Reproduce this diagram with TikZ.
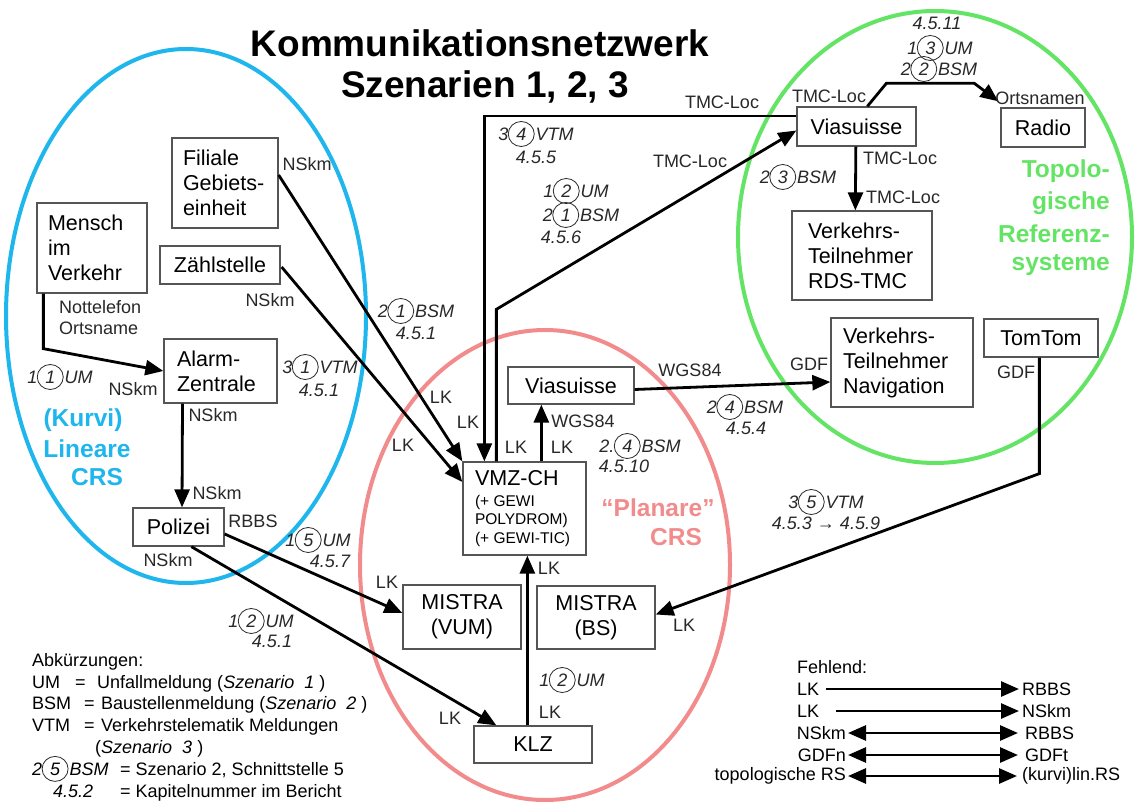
\documentclass[tikz,border=0pt]{standalone}
\usepackage{fontspec}
\setmainfont{Liberation Sans}
\usetikzlibrary{arrows.meta,calc}
\definecolor{cblue}{RGB}{30,182,236}
\definecolor{cgreen}{RGB}{100,228,100}
\definecolor{cpink}{RGB}{242,140,140}
\definecolor{bgray}{RGB}{85,85,85}
\definecolor{tgray}{RGB}{40,40,40}
\newcommand{\fsz}[2]{\fontsize{#1}{#2}\selectfont}
\newcommand{\cn}[1]{\tikz[baseline=(cnx.base)]{\node[inner sep=0pt,minimum width=24pt](cnx){#1};\draw[tgray,line width=0.8pt] ($(cnx.center)$) ellipse [x radius=13pt, y radius=12.5pt];}}
\newcommand{\cl}[3]{#1\hspace{-0.5pt}\cn{#2}\hspace{1pt}#3}
\tikzset{
 box/.style={draw=bgray, line width=1.3pt, inner sep=0pt, font=\fsz{21.5}{25}, text=black},
 lab/.style={inner sep=0pt, font=\fsz{18}{21}, text=tgray},
 ilab/.style={inner sep=0pt, font=\fsz{18}{21}\itshape, text=tgray},
 leg/.style={inner sep=0pt, font=\fsz{18}{21}, text=black},
 conn/.style={line width=2.8pt, draw=black},
 arr/.style={conn, -{Triangle[length=18pt,width=15pt]}},
 darr/.style={conn, {Triangle[length=18pt,width=15pt]}-{Triangle[length=18pt,width=15pt]}},
 ell/.style={line width=4pt},
 elab/.style={inner sep=0pt, font=\fsz{24.5}{30}\bfseries},
}
\begin{document}
\begin{tikzpicture}[x=1pt,y=-1pt]
\useasboundingbox (0,0) rectangle (1135,805);
\fill[white] (0,0) rectangle (1135,805);
% ellipses
\draw[ell,cblue] (186,316) ellipse [x radius=180, y radius=267];
\draw[ell,cpink] (545,565) ellipse [x radius=185, y radius=235];
\draw[ell,cgreen] (935,237) ellipse [x radius=197, y radius=226];
% ellipse labels
\node[elab,text=cblue] (eb1) at (83,420) {(Kurvi)};
\node[elab,text=cblue] (eb2) at (87,449) {Lineare};
\node[elab,text=cblue] (eb3) at (97,477) {CRS};
\node[elab,text=cgreen,anchor=base east] (eg1) at (1110,178) {Topolo-};
\node[elab,text=cgreen,anchor=base east] (eg2) at (1110,210) {gische};
\node[elab,text=cgreen,anchor=base east] (eg3) at (1110,242) {Referenz-};
\node[elab,text=cgreen,anchor=base east] (eg4) at (1110,270) {systeme};
\node[elab,text=cpink] (ep1) at (658,508) {“Planare”};
\node[elab,text=cpink] (ep2) at (676,537) {CRS};
% title
\node[font=\fsz{37}{40}\bfseries, anchor=base, inner sep=0pt] (t1) at (480,57) {Kommunikationsnetzwerk};
\node[font=\fsz{37}{40}\bfseries, anchor=base, inner sep=0pt] (t2) at (485,98) {Szenarien 1, 2, 3};
% boxes
\node[box, minimum width=106pt, minimum height=90pt, text width=84pt, align=left] (filiale) at (225,183) {Filiale\\Gebiets-\\einheit};
\node[box, minimum width=110pt, minimum height=90pt, text width=88pt, align=left] (mensch) at (92,248) {Mensch\\im\\Verkehr};
\node[box, minimum width=120pt, minimum height=38pt] (zaehl) at (220,265) {Zählstelle};
\node[box, minimum width=113pt, minimum height=64pt, text width=87pt, align=left] (alarm) at (220.5,371) {Alarm-\\Zentrale};
\node[box, minimum width=91pt, minimum height=38pt] (polizei) at (178.5,527) {Polizei};
\node[box, minimum width=119pt, minimum height=39pt] (viatop) at (856.5,126.5) {Viasuisse};
\node[box, minimum width=84pt, minimum height=39pt] (radio) at (1043,127.5) {Radio};
\node[box, minimum width=140pt, minimum height=89pt, text width=108pt, align=left] (vtrds) at (862,255.5) {Verkehrs-\\Teilnehmer\\RDS-TMC};
\node[box, minimum width=142pt, minimum height=89pt, text width=118pt, align=left] (nav) at (902,362.5) {Verkehrs-\\Teilnehmer\\Navigation};
\node[box, minimum width=114pt, minimum height=38pt] (tomtom) at (1041,338) {TomTom};
\node[box, minimum width=126pt, minimum height=37pt] (viamid) at (571,385.5) {Viasuisse};
\node[box, minimum width=123pt, minimum height=93pt] (vmz) at (524.5,508.5) {\parbox{99pt}{\fsz{21.5}{23}VMZ-CH\par\vspace{2pt}\fsz{15.5}{18.5}(+ GEWI\par POLYDROM)\par (+ GEWI-TIC)}};
\node[box, minimum width=118pt, minimum height=64pt, align=center] (mistravum) at (462,617) {MISTRA\\(VUM)};
\node[box, minimum width=118pt, minimum height=63pt, align=center] (mistrabs) at (596,617.5) {MISTRA\\(BS)};
\node[box, minimum width=118pt, minimum height=37pt] (klz) at (533,744.5) {KLZ};
% connectors
\coordinate (c1) at ($(mensch.south west)+(7,55)$);
\draw[arr] ($(mensch.south west)+(7,0)$) -- (c1) -- (alarm.west);
\draw[arr] ($(alarm.south)+(-38,0)$) -- ($(polizei.north)+(3.5,0)$);
\draw[arr] ($(polizei.east)+(0,7)$) -- ($(mistravum.west)+(0,-4)$);
\draw[arr] ($(polizei.south west)+(59,0)$) -- ($(klz.north west)+(23,0)$);
\draw[arr] ($(klz.north west)+(54,0)$) -- ($(vmz.south west)+(65,0)$);
\coordinate (c2) at ($(tomtom.south west)+(56,116)$);
\draw[arr] ($(tomtom.south west)+(56,0)$) -- (c2) -- ($(mistrabs.east)+(0,-3)$);
\draw[arr] ($(viamid.east)+(0,4)$) -- ($(nav.west)+(0,19.5)$);
\draw[arr] ($(vmz.north west)+(79,0)$) -- ($(viamid.south west)+(34,0)$);
\draw[arr] ($(viatop.west)+(0,-10.5)$) -| ($(vmz.north west)+(22,0)$);
\coordinate (c3) at ($(vmz.north west)+(34,-152)$);
\draw[arr] ($(vmz.north west)+(34,0)$) -- (c3) -- ($(viatop.west)+(0,4)$);
\draw[arr] ($(filiale.east)+(0,-8)$) -- (vmz.north west);
\draw[arr] ($(zaehl.east)+(1,2)$) -- ($(vmz.west)+(0,-26.5)$);
\draw[arr] ($(viatop.south west)+(59.5,0)$) -- ($(vtrds.north west)+(64,0)$);
\coordinate (c4) at ($(viatop.north west)+(90,-23)$);
\coordinate (c5) at ($(viatop.north west)+(178,-23)$);
\draw[arr] ($(viatop.north west)+(71,0)$) -- (c4) -- (c5) -- ($(radio.north west)+(-2,-6)$);
% plain labels
\node[lab, align=left, anchor=west] (lnot) at (59,318) {Nottelefon\\Ortsname};
\node[lab] (l1) at (133,389) {NSkm};
\node[lab] (l2) at (213,415) {NSkm};
\node[lab] (l3) at (217,493) {NSkm};
\node[lab] (l4) at (253,521) {RBBS};
\node[lab] (l5) at (168,560) {NSkm};
\node[lab] (l6) at (307,164) {NSkm};
\node[lab] (l7) at (270,300) {NSkm};
\node[lab] (k1) at (441,397) {LK};
\node[lab] (k2) at (403,445) {LK};
\node[lab] (k3) at (468,422) {LK};
\node[lab] (k4) at (516,447) {LK};
\node[lab] (k5) at (562,447) {LK};
\node[lab] (k6) at (387,582) {LK};
\node[lab] (k7) at (450,718) {LK};
\node[lab] (k8) at (550,712) {LK};
\node[lab] (k9) at (549,568) {LK};
\node[lab] (k10) at (684,625) {LK};
\node[lab] (w1) at (583,421) {WGS84};
\node[lab] (w2) at (690,370) {WGS84};
\node[lab] (g1) at (809,364) {GDF};
\node[lab] (g2) at (1016,372) {GDF};
\node[lab] (m1) at (722,102) {TMC-Loc};
\node[lab] (m2) at (690,161) {TMC-Loc};
\node[lab] (m3) at (829,96) {TMC-Loc};
\node[lab] (m4) at (900,158) {TMC-Loc};
\node[lab] (m5) at (903,197) {TMC-Loc};
\node[lab] (orts) at (1040,98) {Ortsnamen};
% italic labels
\node[ilab] (i1) at (60,377) {\cl{1}{1}{UM}};
\node[ilab] (i2) at (320,367) {\cl{3}{1}{VTM}};
\node[ilab] (i3) at (319,390) {4.5.1};
\node[ilab] (i4) at (416,311) {\cl{2}{1}{BSM}};
\node[ilab] (i5) at (416,333) {4.5.1};
\node[ilab] (i6) at (536,134) {\cl{3}{4}{VTM}};
\node[ilab] (i7) at (536,157) {4.5.5};
\node[ilab] (i8) at (576,191) {\cl{1}{2}{UM}};
\node[ilab] (i9) at (581,215) {\cl{2}{1}{BSM}};
\node[ilab] (i10) at (561,237) {4.5.6};
\node[ilab] (i11) at (937,23) {4.5.11};
\node[ilab] (i12) at (940,48) {\cl{1}{3}{UM}};
\node[ilab] (i13) at (939,69) {\cl{2}{2}{BSM}};
\node[ilab] (i14) at (798,177) {\cl{2}{3}{BSM}};
\node[ilab] (i15) at (745,407) {\cl{2}{4}{BSM}};
\node[ilab] (i16) at (746,428) {4.5.4};
\node[ilab] (i17) at (640,446) {\cl{2.}{4}{BSM}};
\node[ilab] (i18) at (624,466) {4.5.10};
\node[ilab] (i19) at (318,540) {\cl{1}{5}{UM}};
\node[ilab] (i20) at (330,561) {4.5.7};
\node[ilab] (i21) at (261,621) {\cl{1}{2}{UM}};
\node[ilab] (i22) at (272,641) {4.5.1};
\node[ilab] (i23) at (572,680) {\cl{1}{2}{UM}};
\node[ilab] (i24) at (826,502) {\cl{3}{5}{VTM}};
\node[ilab] (i25) at (826,523) {4.5.3 → 4.5.9};
% legend left
\node[leg, anchor=base west] (a0) at (32,666) {Abkürzungen:};
\node[leg, anchor=base west] (a1) at (32,688) {UM};
\node[leg, anchor=base west] (a1e) at (75,688) {=};
\node[leg, anchor=base west] (a1t) at (97,688) {Unfallmeldung (\textit{Szenario\ \ 1}\ )};
\node[leg, anchor=base west] (a2) at (32,709) {BSM};
\node[leg, anchor=base west] (a2e) at (84,709) {=};
\node[leg, anchor=base west] (a2t) at (101,709) {Baustellenmeldung (\textit{Szenario\ \ 2}\ )};
\node[leg, anchor=base west] (a3) at (32,731) {VTM};
\node[leg, anchor=base west] (a3e) at (84,731) {=};
\node[leg, anchor=base west] (a3t) at (101,731) {Verkehrstelematik Meldungen};
\node[leg, anchor=base west] (a4t) at (95,753) {(\textit{Szenario\ \ 3}\ )};
\node[leg, anchor=base west] (a5) at (32,775) {\textit{\cl{2}{5}{BSM}}};
\node[leg, anchor=base west] (a5t) at (120,775) {= Szenario 2, Schnittstelle 5};
\node[leg, anchor=base west] (a6) at (53,797) {\textit{4.5.2}};
\node[leg, anchor=base west] (a6t) at (120,797) {= Kapitelnummer im Bericht};
% legend right
\node[leg, anchor=west] (fe) at (797,667) {Fehlend:};
\node[leg, anchor=west] (r1a) at (797,689) {LK};
\node[leg, anchor=west] (r1b) at (1022,689) {RBBS};
\node[leg, anchor=west] (r2a) at (797,711) {LK};
\node[leg, anchor=west] (r2b) at (1022,711) {NSkm};
\node[leg, anchor=east] (r3a) at (846,733) {NSkm};
\node[leg, anchor=west] (r3b) at (1025,733) {RBBS};
\node[leg, anchor=east] (r4a) at (846,755) {GDFn};
\node[leg, anchor=west] (r4b) at (1025,755) {GDFt};
\node[leg, anchor=east] (r5a) at (846,776) {topologische RS};
\node[leg, anchor=west] (r5b) at (1022,776) {(kurvi)lin.RS};
\draw[arr] ($(r1a.east)+(7,0)$) -- ($(r1b.west)+(-3,0)$);
\draw[arr] ($(r2a.east)+(17,0)$) -- ($(r2b.west)+(-3,0)$);
\draw[darr] ($(r3a.east)+(2,0)$) -- ($(r3b.west)+(-7,0)$);
\draw[darr] ($(r4a.east)+(2,0)$) -- ($(r4b.west)+(-7,0)$);
\draw[darr] ($(r5a.east)+(2,0)$) -- ($(r5b.west)+(-5,0)$);
\end{tikzpicture}
\end{document}
